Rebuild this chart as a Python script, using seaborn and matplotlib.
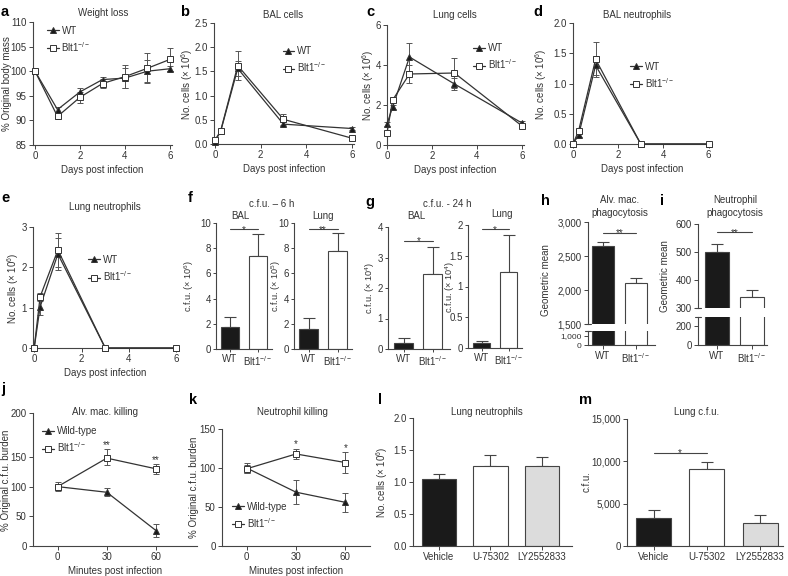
import numpy as np
import seaborn as sns
import matplotlib.pyplot as plt

sns.set_theme(style='ticks')
plt.rcParams['font.family'] = ['Liberation Sans', 'DejaVu Sans']
plt.rcParams['mathtext.fontset'] = 'custom'
plt.rcParams['mathtext.rm'] = 'Liberation Sans'
plt.rcParams['mathtext.it'] = 'Liberation Sans:italic'
plt.rcParams['mathtext.bf'] = 'Liberation Sans:bold'
plt.rcParams['axes.linewidth'] = 0.8
plt.rcParams['axes.edgecolor'] = '#444444'
plt.rcParams['text.color'] = '#333333'
plt.rcParams['axes.labelcolor'] = '#333333'
plt.rcParams['xtick.color'] = '#444444'
plt.rcParams['ytick.color'] = '#444444'
plt.rcParams['xtick.labelcolor'] = '#333333'
plt.rcParams['ytick.labelcolor'] = '#333333'

KO = 'Blt1$^{-/-}$'

# a - weight loss
days_a = [0, 1, 2, 3, 4, 5, 6]
wt_weight = [100.0, 92.2, 95.8, 98.3, 98.6, 100.0, 100.5]
wt_weight_err = [0.4, 0.6, 0.8, 0.6, 2.0, 2.2, 0.5]
ko_weight = [100.0, 90.8, 94.7, 97.5, 98.9, 100.6, 102.4]
ko_weight_err = [0.3, 0.5, 1.1, 1.0, 2.3, 3.0, 2.4]

# b-e - cell counts
days = [0, 0.25, 1, 3, 6]
wt_bal = [0.05, 0.26, 1.56, 0.41, 0.32]
wt_bal_err = [0.02, 0.04, 0.15, 0.04, 0.03]
ko_bal = [0.08, 0.27, 1.62, 0.51, 0.12]
ko_bal_err = [0.02, 0.04, 0.3, 0.11, 0.03]

wt_lung = [1.05, 1.9, 4.4, 3.05, 1.1]
wt_lung_err = [0.1, 0.1, 0.7, 0.3, 0.1]
ko_lung = [0.6, 2.25, 3.55, 3.6, 0.95]
ko_lung_err = [0.1, 0.1, 0.45, 0.75, 0.1]

wt_bal_neu = [0.0, 0.15, 1.3, 0.0, 0.0]
wt_bal_neu_err = [0.0, 0.03, 0.16, 0.0, 0.0]
ko_bal_neu = [0.0, 0.22, 1.4, 0.0, 0.0]
ko_bal_neu_err = [0.0, 0.03, 0.29, 0.0, 0.0]

wt_lung_neu = [0.0, 1.02, 2.33, 0.0, 0.0]
wt_lung_neu_err = [0.0, 0.19, 0.4, 0.0, 0.0]
ko_lung_neu = [0.0, 1.27, 2.43, 0.0, 0.0]
ko_lung_neu_err = [0.0, 0.1, 0.43, 0.0, 0.0]

# f-i - bars WT vs Blt1
genotypes = ['WT', KO]
cfu6_bal = [1.72, 7.4]
cfu6_bal_err = [0.8, 1.75]
cfu6_lung = [1.56, 7.8]
cfu6_lung_err = [0.88, 1.4]
cfu24_bal = [0.2, 2.45]
cfu24_bal_err = [0.15, 0.9]
cfu24_lung = [0.08, 1.24]
cfu24_lung_err = [0.04, 0.6]
mac_phago = [2647, 2100]
mac_phago_err = [60, 75]
neu_phago = [501, 338]
neu_phago_err = [27, 26]

# j-k - killing
minutes = [0, 30, 60]
wt_mac_kill = [100, 90.5, 26]
wt_mac_kill_err = [8, 7, 11]
ko_mac_kill = [100, 148, 130]
ko_mac_kill_err = [5, 11, 8]
wt_neu_kill = [100, 69, 56]
wt_neu_kill_err = [6, 15, 12]
ko_neu_kill = [99, 118, 107]
ko_neu_kill_err = [5, 7, 13]

# l-m - treatments
treatments = ['Vehicle', 'U-75302', 'LY2552833']
treat_neu = [1.05, 1.255, 1.25]
treat_neu_err = [0.08, 0.165, 0.14]
treat_cfu = [3270, 9055, 2680]
treat_cfu_err = [980, 905, 985]

h_up_ticks = [1500, 2000, 2500, 3000]
h_up_labels = ['1,500', '2,000', '2,500', '3,000']
h_lo_ticks = [0, 1000]
h_lo_labels = ['0', '1,000']
m_ticks = [0, 5000, 10000, 15000]
m_labels = ['0', '5,000', '10,000', '15,000']
g_lung_ticks = [0, 0.5, 1, 1.5, 2]
g_lung_labels = ['0', '0.5', '1', '1.5', '2']

FS = 7
DARK = '#1a1a1a'
EDGE = '#444444'
W, H = 788, 576
fig = plt.figure(figsize=(W / 100, H / 100), dpi=100)


def add_ax(l, t, r, b, tick=3, pad=1.5):
    ax = fig.add_axes([l / W, 1 - b / H, (r - l) / W, (b - t) / H])
    sns.despine(ax=ax)
    ax.tick_params(length=tick, width=0.7, labelsize=FS, pad=pad)
    return ax


def put(x, y, s, **kw):
    kw.setdefault('ha', 'center')
    kw.setdefault('va', 'center')
    kw.setdefault('fontsize', FS)
    fig.text(x / W, 1 - y / H, s, **kw)


def line_panel(ax, x, wt, wt_err, ko, ko_err, wt_name='WT'):
    for y, e, mk, ms, face, name in [(wt, wt_err, '^', 4.5, DARK, wt_name), (ko, ko_err, 's', 4, 'white', KO)]:
        ax.errorbar(x, y, yerr=e, fmt='none', ecolor='#555555', elinewidth=0.7,
                    capsize=2, capthick=0.7, clip_on=False, zorder=2)
        sns.lineplot(x=x, y=y, ax=ax, color='#333333', linewidth=0.9, marker=mk, markersize=ms,
                     markerfacecolor=face, markeredgecolor='#333333', markeredgewidth=0.7,
                     label=name, errorbar=None, clip_on=False, zorder=3)
    ax.set_xlabel('')
    ax.set_ylabel('')


def legend(ax, anchor):
    ax.legend(loc='upper left', bbox_to_anchor=anchor, frameon=False, fontsize=FS,
              handlelength=1.2, handletextpad=0.3, borderaxespad=0, borderpad=0, labelspacing=0.45)


def bar_panel(ax, cats, vals, errs, colors, width=0.65, err=True):
    sns.barplot(x=cats, y=vals, hue=cats, palette=colors, legend=False, width=width, saturation=1,
                edgecolor=EDGE, linewidth=0.8, errorbar=None, ax=ax)
    if err:
        ax.errorbar(range(len(vals)), vals, yerr=[[0] * len(vals), errs], fmt='none', ecolor=EDGE,
                    elinewidth=0.8, capsize=4, capthick=0.8, zorder=0.5)
    ax.set_xlabel('')
    ax.set_ylabel('')


def star(ax, x, y, stars):
    # asterisk glyph sits high in the em box, so drop the baseline a little
    ax.annotate(stars, (x, y), xytext=(0, -2.5), textcoords='offset points',
                ha='center', va='baseline', fontsize=FS)


def sig(ax, x0, x1, y, stars):
    ax.plot([x0, x1], [y, y], color=EDGE, lw=0.8, clip_on=False)
    star(ax, (x0 + x1) / 2, y, stars)


def cap(ax, yfrac):
    ax.plot([-0.05, 0.05], [yfrac, yfrac], transform=ax.transAxes, color=EDGE, lw=0.8, clip_on=False)


cells_label = 'No. cells (× 10$^6$)'

# a
ax = add_ax(33, 22, 172, 145)
line_panel(ax, days_a, wt_weight, wt_weight_err, ko_weight, ko_weight_err)
ax.set_xlim(-0.09, 6.09)
ax.set_ylim(85, 110)
ax.set_xticks([0, 2, 4, 6])
ax.set_yticks(range(85, 111, 5))
ax.set_xlabel('Days post infection', fontsize=FS, labelpad=3)
legend(ax, (0.1, 0.97))
put(103, 13, 'Weight loss')
put(7, 84, '% Original body mass', rotation=90)

# b
ax = add_ax(214, 23, 354, 144)
line_panel(ax, days, wt_bal, wt_bal_err, ko_bal, ko_bal_err)
ax.set_xlim(-0.04, 6.09)
ax.set_ylim(0, 2.5)
ax.set_xticks([0, 2, 4, 6])
ax.set_yticks([0, 0.5, 1, 1.5, 2, 2.5])
ax.set_xlabel('Days post infection', fontsize=FS, labelpad=3)
legend(ax, (0.49, 0.81))
put(283, 15, 'BAL cells')
put(187, 84, cells_label, rotation=90)

# c
ax = add_ax(387, 25, 524, 145)
line_panel(ax, days, wt_lung, wt_lung_err, ko_lung, ko_lung_err)
ax.set_xlim(0, 6.09)
ax.set_ylim(0, 6)
ax.set_xticks([0, 2, 4, 6])
ax.set_yticks([0, 2, 4, 6])
ax.set_xlabel('Days post infection', fontsize=FS, labelpad=3)
legend(ax, (0.63, 0.85))
put(455, 15, 'Lung cells')
put(368, 85, cells_label, rotation=90)

# d
ax = add_ax(573, 23, 712, 144)
line_panel(ax, days, wt_bal_neu, wt_bal_neu_err, ko_bal_neu, ko_bal_neu_err)
ax.set_xlim(0, 6.15)
ax.set_ylim(0, 2.0)
ax.set_xticks([0, 2, 4, 6])
ax.set_yticks([0, 0.5, 1, 1.5, 2])
ax.set_xlabel('Days post infection', fontsize=FS, labelpad=3)
legend(ax, (0.41, 0.68))
put(637, 15, 'BAL neutrophils')
put(541, 84, cells_label, rotation=90)

# e
ax = add_ax(33, 227, 178, 348)
line_panel(ax, days, wt_lung_neu, wt_lung_neu_err, ko_lung_neu, ko_lung_neu_err)
ax.set_xlim(-0.05, 6.07)
ax.set_ylim(0, 3)
ax.set_xticks([0, 2, 4, 6])
ax.set_yticks([0, 1, 2, 3])
ax.set_xlabel('Days post infection', fontsize=FS, labelpad=3)
legend(ax, (0.38, 0.77))
put(105, 207, 'Lung neutrophils')
put(13, 288, cells_label, rotation=90)

# f
ax = add_ax(216, 223, 272, 349, tick=2.5, pad=1)
bar_panel(ax, genotypes, cfu6_bal, cfu6_bal_err, [DARK, 'white'])
ax.set_xlim(-0.5, 1.5)
ax.set_ylim(0, 10)
ax.set_yticks([0, 2, 4, 6, 8, 10])
sig(ax, 0, 1, 9.5, '*')
put(189, 286, 'c.f.u. (× 10$^6$)', rotation=90, fontsize=6.6)

ax = add_ax(294, 223, 352, 349, tick=2.5, pad=1)
bar_panel(ax, genotypes, cfu6_lung, cfu6_lung_err, [DARK, 'white'])
ax.set_xlim(-0.5, 1.5)
ax.set_ylim(0, 10)
ax.set_yticks([0, 2, 4, 6, 8, 10])
sig(ax, 0, 1, 9.5, '**')
put(276, 286, 'c.f.u. (× 10$^5$)', rotation=90, fontsize=6.6)
put(272, 204, 'c.f.u. – 6 h')
put(240, 216, 'BAL')
put(323, 216, 'Lung')

# g
ax = add_ax(388, 227, 450, 349, tick=2.5, pad=1)
bar_panel(ax, genotypes, cfu24_bal, cfu24_bal_err, [DARK, 'white'])
ax.set_xlim(-0.55, 1.6)
ax.set_ylim(0, 4)
ax.set_yticks([0, 1, 2, 3, 4])
sig(ax, 0, 1, 3.55, '*')
put(370, 288, 'c.f.u. (× 10$^4$)', rotation=90, fontsize=6.6)

ax = add_ax(468, 225, 522, 348, tick=2.5, pad=1)
bar_panel(ax, genotypes, cfu24_lung, cfu24_lung_err, [DARK, 'white'])
ax.set_xlim(-0.5, 1.5)
ax.set_ylim(0, 2)
ax.set_yticks(g_lung_ticks)
ax.set_yticklabels(g_lung_labels)
sig(ax, 0, 1, 1.93, '*')
put(450, 287, 'c.f.u. (× 10$^4$)', rotation=90, fontsize=6.6)
put(447, 204, 'c.f.u. - 24 h')
put(416, 216, 'BAL')
put(502, 214, 'Lung')

# h (broken axis)
ax_up = add_ax(588, 222, 655, 324)
bar_panel(ax_up, genotypes, mac_phago, mac_phago_err, [DARK, 'white'])
ax_up.set_xlim(-0.45, 1.58)
ax_up.set_ylim(1500, 3000)
ax_up.set_yticks(h_up_ticks)
ax_up.set_yticklabels(h_up_labels)
ax_up.spines['bottom'].set_visible(False)
ax_up.tick_params(axis='x', bottom=False, labelbottom=False)
sig(ax_up, 0, 1, 2840, '**')
cap(ax_up, 0)
ax_lo = add_ax(588, 331, 655, 345)
bar_panel(ax_lo, genotypes, mac_phago, mac_phago_err, [DARK, 'white'], err=False)
ax_lo.set_xlim(-0.45, 1.58)
ax_lo.set_ylim(0, 1500)
ax_lo.set_yticks(h_lo_ticks)
ax_lo.set_yticklabels(h_lo_labels)
ax_lo.tick_params(axis='y', labelsize=6)
cap(ax_lo, 1)
put(620, 200, 'Alv. mac.')
put(620, 212.5, 'phagocytosis')
put(546, 280, 'Geometric mean', rotation=90)

# i (broken axis)
ax_up = add_ax(698, 224, 767, 308)
bar_panel(ax_up, genotypes, neu_phago, neu_phago_err, [DARK, 'white'], width=0.7)
ax_up.set_xlim(-0.54, 1.43)
ax_up.set_ylim(300, 600)
ax_up.set_yticks([300, 400, 500, 600])
ax_up.spines['bottom'].set_visible(False)
ax_up.tick_params(axis='x', bottom=False, labelbottom=False)
sig(ax_up, 0, 1, 571, '**')
cap(ax_up, 0)
ax_lo = add_ax(698, 317, 767, 345)
bar_panel(ax_lo, genotypes, neu_phago, neu_phago_err, [DARK, 'white'], width=0.7, err=False)
ax_lo.set_xlim(-0.54, 1.43)
ax_lo.set_ylim(0, 295)
ax_lo.set_yticks([0, 200])
cap(ax_lo, 1)
put(735, 200, 'Neutrophil')
put(735, 212.5, 'phagocytosis')
put(665, 276, 'Geometric mean', rotation=90)


# j (y axis stretched above 150)
def fwd(y):
    y = np.asarray(y, dtype=float)
    return np.where(y <= 150, y, 150 + (y - 150) * 1.48)


def inv(y):
    y = np.asarray(y, dtype=float)
    return np.where(y <= 150, y, 150 + (y - 150) / 1.48)


ax = add_ax(33, 413, 197, 546)
ax.set_yscale('function', functions=(fwd, inv))
line_panel(ax, minutes, wt_mac_kill, wt_mac_kill_err, ko_mac_kill, ko_mac_kill_err, 'Wild-type')
ax.set_xlim(-15, 85)
ax.set_ylim(0, 200)
ax.set_xticks(minutes)
ax.set_yticks([0, 50, 100, 150, 200])
ax.set_yticklabels(['0', '50', '100', '150', '200'])
ax.minorticks_off()
ax.set_xlabel('Minutes post infection', fontsize=FS, labelpad=3)
legend(ax, (0.055, 0.9))
for xm, ym, em in zip(minutes[1:], ko_mac_kill[1:], ko_mac_kill_err[1:]):
    ax.annotate('**', (xm, ym + em), xytext=(0, 1), textcoords='offset points',
                ha='center', va='baseline', fontsize=FS)
put(105, 412, 'Alv. mac. killing')
put(6, 480, '% Original c.f.u. burden', rotation=90)

# k
ax = add_ax(222, 429, 370, 546)
line_panel(ax, minutes, wt_neu_kill, wt_neu_kill_err, ko_neu_kill, ko_neu_kill_err, 'Wild-type')
ax.set_xlim(-15, 75)
ax.set_ylim(0, 150)
ax.set_xticks(minutes)
ax.set_yticks([0, 50, 100, 150])
ax.set_xlabel('Minutes post infection', fontsize=FS, labelpad=3)
legend(ax, (0.07, 0.38))
for xm, ym, em in zip(minutes[1:], ko_neu_kill[1:], ko_neu_kill_err[1:]):
    ax.annotate('*', (xm, ym + em), xytext=(0, 1), textcoords='offset points',
                ha='center', va='baseline', fontsize=FS)
put(292, 412, 'Neutrophil killing')
put(194, 487, '% Original c.f.u. burden', rotation=90)

# l
ax = add_ax(413, 418, 572, 546)
bar_panel(ax, treatments, treat_neu, treat_neu_err, [DARK, 'white', '#dcdcdc'], width=0.67)
ax.set_xlim(-0.5, 2.58)
ax.set_ylim(0, 2)
ax.set_yticks([0, 0.5, 1, 1.5, 2])
ax.set_yticklabels(['0.0', '0.5', '1.0', '1.5', '2.0'])
put(487, 412, 'Lung neutrophils')
put(382, 482, cells_label, rotation=90)

# m
ax = add_ax(627, 419, 783, 546)
bar_panel(ax, treatments, treat_cfu, treat_cfu_err, [DARK, 'white', '#dcdcdc'], width=0.66)
ax.set_xlim(-0.5, 2.43)
ax.set_ylim(0, 15000)
ax.set_yticks(m_ticks)
ax.set_yticklabels(m_labels)
sig(ax, 0, 1, 11000, '*')
put(697, 412, 'Lung c.f.u.')
put(587, 482, 'c.f.u.', rotation=90)

for letter, x, y in [('a', 5, 12), ('b', 185, 12), ('c', 370, 12), ('d', 538, 12),
                     ('e', 5, 198), ('f', 190, 198), ('g', 370, 202), ('h', 545, 201),
                     ('i', 662, 201), ('j', 3, 389), ('k', 193, 400), ('l', 380, 400), ('m', 585, 400)]:
    put(x, y, letter, fontsize=10.5, fontweight='bold', color='black')

fig.savefig('out.png', dpi=100)
